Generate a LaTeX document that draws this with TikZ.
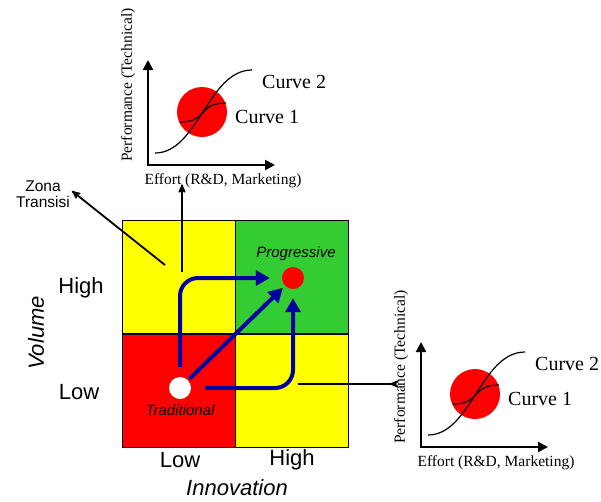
\documentclass[tikz,border=0pt]{standalone}
\usepackage{fontspec}
\setmainfont{Liberation Sans}
\newfontfamily\timesfont{Liberation Serif}
\usetikzlibrary{arrows,arrows.meta,positioning}
\definecolor{cellyellow}{RGB}{255,255,0}
\definecolor{cellgreen}{RGB}{51,204,51}
\definecolor{cellred}{RGB}{255,0,0}
\definecolor{pathblue}{RGB}{0,0,160}
\tikzset{
    %Define standard arrow tip
    >=stealth',
    %Define style for the four quadrants
    cell/.style={
           rectangle,
           draw=black,
           line width=0.8pt,
           minimum width=113pt,
           minimum height=113pt,
           inner sep=0pt},
    % Define style for the two states
    dot/.style={
           circle,
           minimum size=22pt,
           inner sep=0pt},
    gridlabel/.style={
           inner sep=0pt,
           font=\fontsize{22}{24}\selectfont},
    statelabel/.style={
           inner sep=0pt,
           font=\fontsize{15}{17}\itshape\selectfont},
    % Define arrow styles
    arrow/.style={
           ->,
           line width=1.8pt},
    bluearrow/.style={
           -{Triangle[length=14pt,width=15pt]},
           line width=4pt,
           draw=pathblue,
           rounded corners=18pt},
    axis/.style={
           {Triangle[length=10pt,width=10pt]}-{Triangle[length=10pt,width=10pt]},
           line width=2.2pt},
    curvelabel/.style={
           inner sep=0pt,
           anchor=west,
           font=\timesfont\fontsize{20}{22}\selectfont},
    axislabel/.style={
           inner sep=0pt,
           font=\timesfont\fontsize{15.5}{17}\selectfont},
    % Performance vs effort chart
    perfchart/.pic={
        \fill[cellred] (54,-53) circle[radius=25pt];
        \draw[line width=1.2pt] (7,-12) .. controls (50,-12) and (60,-95) .. (104,-95);
        \draw[line width=1.2pt] (32,-43) .. controls (60,-43) and (50,-62) .. (78,-62);
        \draw[axis] (0,-105) |- (127,0);
        \node[curvelabel] (-curvetwo) at (114,-83) {Curve 2};
        \node[curvelabel] (-curveone) at (87,-48) {Curve 1};
        \node[axislabel] (-effort) at (75,16) {Effort (R\&D, Marketing)};
        \node[axislabel, rotate=90] (-perf) at (-20,-80) {Performance (Technical)};
    }
}

\begin{document}
\begin{tikzpicture}[x=1pt, y=-1pt]
    \useasboundingbox (0,0) rectangle (601,501);

    % quadrants
    \node [cell, fill=cellred] (tradcell) at (178.5,391) {};
    \node [cell, fill=cellyellow, above=0pt of tradcell] (transup) {};
    \node [cell, fill=cellyellow, right=0pt of tradcell] (transright) {};
    \node [cell, fill=cellgreen, above=0pt of transright] (progcell) {};

    % axis labels
    \node [gridlabel] (volhigh) at (81,288) {High};
    \node [gridlabel] (vollow) at (79,392) {Low};
    \node [gridlabel] (innlow) at (180,460) {Low};
    \node [gridlabel] (innhigh) at (292,460) {High};
    \node [gridlabel, font=\fontsize{22}{24}\itshape\selectfont] (innovation) at (237,488) {Innovation};
    \node [gridlabel, font=\fontsize{22}{24}\itshape\selectfont, rotate=90] (volume) at (36,333) {Volume};

    % states
    \node [dot, fill=white] (trad) at (180,388) {};
    \node [dot, fill=cellred] (prog) at (293,278) {};
    \node [statelabel, below=5pt of trad] {Traditional};
    \node [statelabel, above=6pt of prog, xshift=3pt] {Progressive};

    \draw[bluearrow, shorten <=10pt, shorten >=12pt] (trad) |- (prog);
    \draw[bluearrow, shorten <=2pt, shorten >=3pt] (trad) -- (prog);
    \draw[bluearrow, shorten <=14pt, shorten >=9pt] (trad) -| (prog);

    % the two charts
    \pic (top) at (148,165) {perfchart};
    \pic (right) at (421,447) {perfchart};

    % transition zone
    \node [align=center, inner sep=0pt, font=\fontsize{15.5}{16}\selectfont] (zona) at (43,194) {Zona\\Transisi};
    \coordinate (zonafoot) at (165,265);
    \coordinate (zonatip) at (72,191);
    \draw[arrow] (zonafoot) -- (zonatip);

    \coordinate (upfoot) at (182,272);
    \draw[arrow] (upfoot) -- (upfoot |- top-effort.south) -- ++(0,-4);
    \coordinate (rightfoot) at (298,384);
    \draw[arrow] (rightfoot) -- (rightfoot -| right-perf.north) -- ++(-4,0);
\end{tikzpicture}
\end{document}
